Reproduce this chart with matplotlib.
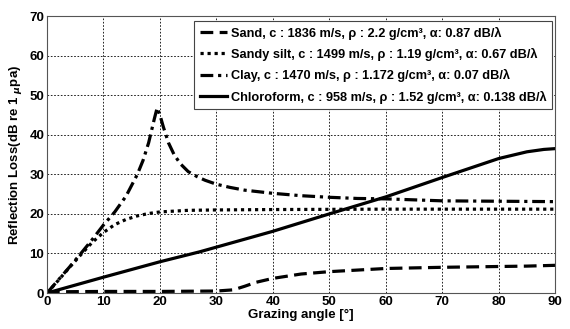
import matplotlib
matplotlib.use("Agg")
import matplotlib.pyplot as plt

plt.rcParams['font.family'] = ['Liberation Sans', 'DejaVu Sans']
plt.rcParams['font.weight'] = 'bold'

# Sand
sand_x = [0, 1, 10, 20, 30, 33, 35, 37, 40, 45, 50, 55, 60, 70, 80, 85, 90]
sand_y = [0, 0.3, 0.4, 0.4, 0.5, 0.8, 1.7, 2.7, 3.7, 4.8, 5.4, 5.8, 6.2, 6.5, 6.7, 6.8, 7.0]

# Sandy silt
silt_x = [0, 2, 4, 6, 8, 10, 12, 14, 16, 18, 20, 25, 30, 40, 60, 90]
silt_y = [0, 3.2, 6.5, 9.7, 12.8, 15.3, 17.3, 18.6, 19.5, 20.1, 20.5, 20.9, 21.0, 21.1, 21.2, 21.2]

# Clay
clay_x = [0, 2, 4, 6, 8, 10, 12, 14, 16, 17, 18, 19, 19.5, 20, 20.6, 21.5, 22.5,
          23.6, 25, 26.6, 28, 30, 32.4, 35, 40, 45, 50, 55, 60, 70, 80, 90]
clay_y = [0, 3.3, 6.6, 10, 13.5, 17.2, 20.5, 24.5, 30, 33.5, 38, 44, 46.8, 45, 42, 38, 35,
          32.7, 30.7, 29.4, 28.5, 27.5, 26.7, 26.0, 25.2, 24.6, 24.2, 23.9, 23.8, 23.3, 23.2, 23.1]

# Chloroform
chl_x = [0, 10, 20, 27, 30, 40, 50, 60, 70, 80, 85, 88, 90]
chl_y = [0, 4.0, 7.9, 10.4, 11.6, 15.6, 20.0, 24.3, 29.2, 34.0, 35.7, 36.3, 36.5]

labels = [
    "Sand, c : 1836 m/s, \u03c1 : 2.2 g/cm\u00b3, \u03b1: 0.87 dB/\u03bb",
    "Sandy silt, c : 1499 m/s, \u03c1 : 1.19 g/cm\u00b3, \u03b1: 0.67 dB/\u03bb",
    "Clay, c : 1470 m/s, \u03c1 : 1.172 g/cm\u00b3, \u03b1: 0.07 dB/\u03bb",
    "Chloroform, c : 958 m/s, \u03c1 : 1.52 g/cm\u00b3, \u03b1: 0.138 dB/\u03bb",
]

fig = plt.figure(figsize=(5.7, 3.29), dpi=100)
ax = fig.add_axes([0.0825, 0.1094, 0.8915, 0.8416])

lw = 2.3
ax.plot(sand_x, sand_y, 'k', ls=(0, (4, 2)), lw=lw, label=labels[0])
ax.plot(silt_x, silt_y, 'k', ls=(0, (1, 1.2)), lw=lw, label=labels[1])
ax.plot(clay_x, clay_y, 'k', ls=(0, (4, 1.5, 1, 1.5)), lw=lw, label=labels[2])
ax.plot(chl_x, chl_y, 'k', ls='-', lw=lw, label=labels[3])

ax.set_xlim(0, 90)
ax.set_ylim(0, 70)
ax.set_xticks(range(0, 91, 10))
ax.set_yticks(range(0, 71, 10))
ax.grid(True, color='k', ls=(0, (2, 2)), lw=0.6)
ax.tick_params(labelsize=9.5, length=0, pad=2)
for s in ax.spines.values():
    s.set_color('#555555')
    s.set_linewidth(0.8)

ax.set_xlabel("Grazing angle [\u00b0]", fontsize=9.5, fontweight='bold', labelpad=1)
ax.set_ylabel("Reflection Loss(dB re 1 $_{\\mu}$pa)", fontsize=9.5, fontweight='bold', labelpad=4)

leg = ax.legend(loc='upper right', bbox_to_anchor=(0.9935, 0.983), borderaxespad=0,
                fancybox=False, edgecolor='#444444', framealpha=1,
                prop={'size': 9.2, 'weight': 'bold'}, handlelength=2.1,
                labelspacing=0.65, borderpad=0.45, handletextpad=0.3)
leg.get_frame().set_linewidth(0.8)

fig.savefig("out.png", dpi=100)
